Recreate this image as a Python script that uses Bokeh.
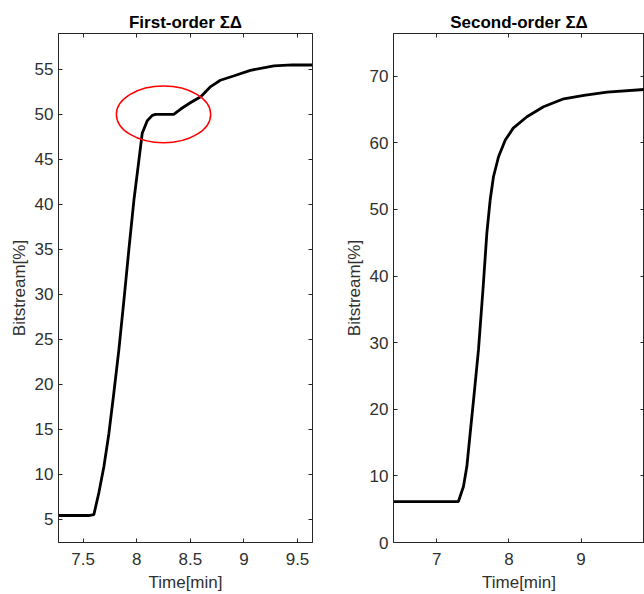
from bokeh.plotting import figure
from bokeh.layouts import row
from bokeh.models import (LinearAxis, FixedTicker, NumeralTickFormatter, Range1d,
                          CustomJSTickFormatter)
from bokeh.embed import file_html
from bokeh.resources import INLINE

# ---- data: first-order sigma-delta ----
t1 = [7.27, 7.35, 7.45, 7.55, 7.60, 7.646, 7.693, 7.74, 7.786, 7.833, 7.88,
      7.926, 7.973, 8.02, 8.051, 8.098, 8.145, 8.176, 8.345, 8.41, 8.50, 8.60,
      8.69, 8.78, 8.91, 9.06, 9.28, 9.45, 9.64]
v1 = [5.4, 5.4, 5.4, 5.4, 5.5, 7.9, 10.8, 14.5, 19.0, 23.8, 29.3,
      34.9, 40.4, 44.9, 47.9, 49.3, 49.9, 50.0, 50.0, 50.6, 51.3, 52.0,
      53.1, 53.8, 54.3, 54.9, 55.4, 55.5, 55.5]

# ---- data: second-order sigma-delta ----
t2 = [6.40, 6.80, 7.10, 7.30, 7.37, 7.417, 7.463, 7.51, 7.578, 7.64, 7.694,
      7.74, 7.786, 7.856, 7.95, 8.06, 8.25, 8.48, 8.76, 9.04, 9.36, 9.88]
v2 = [6.15, 6.15, 6.15, 6.15, 8.4, 11.4, 16.4, 21.4, 28.9, 37.9, 46.4,
      51.4, 54.9, 57.9, 60.4, 62.2, 63.9, 65.4, 66.6, 67.1, 67.6, 68.0]

# highlighted region (red ellipse) on the first panel
hl_x, hl_y, hl_w, hl_h = [8.25], [50.0], [0.88], [6.3]

x1_ticks = [7.5, 8, 8.5, 9, 9.5]
y1_ticks = [5, 10, 15, 20, 25, 30, 35, 40, 45, 50, 55]
x2_ticks = [7, 8, 9, 10]
y2_ticks = [0, 10, 20, 30, 40, 50, 60, 70]

FONT = "Liberation Sans"
AX = "#262626"
TXT = "#303030"


def style(p, xt, yt):
    p.xaxis.ticker = FixedTicker(ticks=xt)
    p.yaxis.ticker = FixedTicker(ticks=yt)
    p.xaxis.formatter = NumeralTickFormatter(format="0.[0]")
    p.xaxis.axis_label = "Time[min]"
    p.yaxis.axis_label = "Bitstream[%]"
    for ax in p.xaxis + p.yaxis:
        ax.major_tick_in = 4
        ax.major_tick_out = 0
        ax.minor_tick_line_color = None
        ax.axis_line_color = AX
        ax.major_tick_line_color = AX
        ax.major_label_text_font = FONT
        ax.major_label_text_font_size = "17px"
        ax.major_label_text_color = TXT
        ax.axis_label_text_font = FONT
        ax.axis_label_text_font_size = "17px"
        ax.axis_label_text_font_style = "normal"
        ax.axis_label_text_color = TXT
    p.xaxis.major_label_standoff = 10
    p.xaxis.axis_label_standoff = 5
    p.yaxis.major_label_standoff = 5
    p.yaxis.axis_label_standoff = 3
    blank = CustomJSTickFormatter(code="return ''")
    top = LinearAxis(ticker=FixedTicker(ticks=xt), formatter=blank,
                     major_label_text_font_size="1px",
                     major_tick_in=4, major_tick_out=0, minor_tick_line_color=None,
                     axis_line_color=AX, major_tick_line_color=AX, major_label_standoff=0)
    right = LinearAxis(ticker=FixedTicker(ticks=yt), formatter=blank,
                       major_label_text_font_size="1px",
                       major_tick_in=4, major_tick_out=0, minor_tick_line_color=None,
                       axis_line_color=AX, major_tick_line_color=AX, major_label_standoff=0)
    p.add_layout(top, "above")
    p.add_layout(right, "right")
    p.xgrid.visible = False
    p.ygrid.visible = False
    p.outline_line_color = AX
    p.title.align = "center"
    p.title.text_font = FONT
    p.title.text_font_size = "17px"
    p.title.text_font_style = "bold"
    p.title.text_color = "#000000"
    p.title.standoff = 4


p1 = figure(width=335, height=594, output_backend="svg", toolbar_location=None,
            title="First-order ΣΔ",
            x_range=Range1d(7.27, 9.64), y_range=Range1d(2.4, 59.0),
            min_border_left=58, min_border_right=23, min_border_top=33,
            min_border_bottom=51)
style(p1, x1_ticks, y1_ticks)
p1.line(t1, v1, line_color="black", line_width=2.8)
p1.ellipse(x=hl_x, y=hl_y, width=hl_w, height=hl_h, fill_color=None,
           line_color="#ff0000", line_width=1.5)

p2 = figure(width=309, height=594, output_backend="svg", toolbar_location=None,
            title="Second-order ΣΔ",
            x_range=Range1d(6.40, 9.88), y_range=Range1d(0, 76.4),
            min_border_left=58, min_border_right=0, min_border_top=33,
            min_border_bottom=51)
style(p2, x2_ticks, y2_ticks)
p2.line(t2, v2, line_color="black", line_width=2.8)

layout = row(p1, p2)
open("out.html", "w").write(file_html(layout, INLINE))
